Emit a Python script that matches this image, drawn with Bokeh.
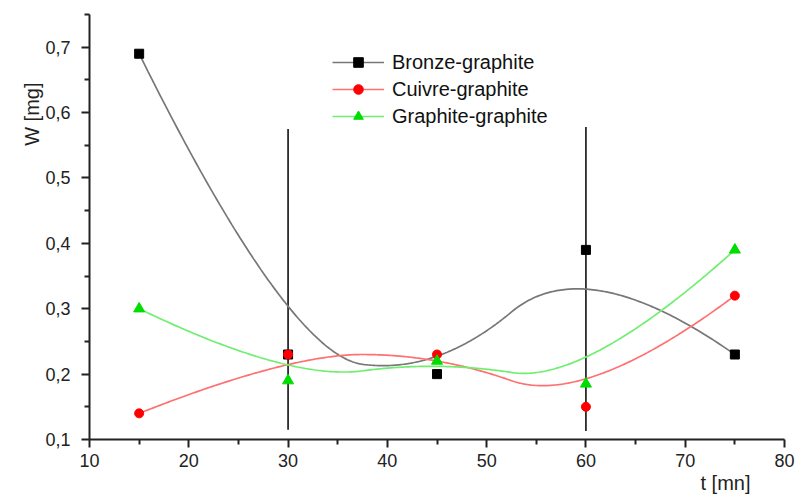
import numpy as np
from bokeh.plotting import figure
from bokeh.models import (Range1d, FixedTicker, CustomJSTickFormatter, Legend,
                          LegendItem, Title, ColumnDataSource)
from bokeh.embed import file_html
from bokeh.resources import INLINE

# ---- data ----
t_values = [15, 30, 45, 60, 75]
bronze = [0.69, 0.23, 0.20, 0.39, 0.23]
cuivre = [0.14, 0.23, 0.23, 0.15, 0.32]
graphite = [0.30, 0.19, 0.22, 0.185, 0.39]
series_names = ["Bronze-graphite", "Cuivre-graphite", "Graphite-graphite"]

err_x = [30, 60]
err_low = [0.115, 0.113]
err_high = [0.575, 0.578]

x_ticks = [10, 20, 30, 40, 50, 60, 70, 80]
x_minor = [15, 25, 35, 45, 55, 65, 75]
y_ticks = [0.1, 0.2, 0.3, 0.4, 0.5, 0.6, 0.7]
y_minor = [0.15, 0.25, 0.35, 0.45, 0.55, 0.65, 0.75]

FONT = "Liberation Sans"


def bspline(xs, ys, k=2, n=300):
    """Clamped uniform B-spline using the data points as control points."""
    P = np.column_stack([np.asarray(xs, float), np.asarray(ys, float)])
    m = len(P)
    inner = list(range(1, m - k))
    t = np.array([0.0] * (k + 1) + inner + [float(m - k)] * (k + 1))
    us = np.linspace(0, m - k, n)
    out = []
    for u in us:
        s = np.searchsorted(t, u, side="right") - 1
        s = min(s, len(t) - k - 2)
        d = [P[j + s - k].copy() for j in range(k + 1)]
        for r in range(1, k + 1):
            for j in range(k, r - 1, -1):
                den = t[j + 1 + s - r] - t[j + s - k]
                a = 0.0 if den == 0 else (u - t[j + s - k]) / den
                d[j] = (1 - a) * d[j - 1] + a * d[j]
        out.append(d[k])
    out = np.array(out)
    return out[:, 0], out[:, 1]


p = figure(width=798, height=499, output_backend="svg", toolbar_location=None,
           x_range=Range1d(10, 80), y_range=Range1d(0.1, 0.75),
           min_border_left=89, min_border_right=14, min_border_top=14,
           min_border_bottom=60)
p.outline_line_color = None
p.grid.visible = False
p.background_fill_color = "white"
p.border_fill_color = "white"

for ax in (p.xaxis[0], p.yaxis[0]):
    ax.axis_line_width = 2
    ax.axis_line_color = "#222222"
    ax.major_tick_line_width = 2
    ax.minor_tick_line_width = 2
    ax.major_tick_line_color = "#222222"
    ax.minor_tick_line_color = "#222222"
    ax.major_tick_in = 0
    ax.major_tick_out = 8
    ax.minor_tick_in = 0
    ax.minor_tick_out = 5
    ax.major_label_text_font = FONT
    ax.major_label_text_font_size = "18px"
    ax.major_label_text_color = "#222222"

p.xaxis.ticker = FixedTicker(ticks=x_ticks, minor_ticks=x_minor)
p.yaxis.ticker = FixedTicker(ticks=y_ticks, minor_ticks=y_minor)
p.yaxis.formatter = CustomJSTickFormatter(code="return tick.toFixed(1).replace('.', ',');")
p.xaxis.major_label_standoff = 6
p.yaxis.major_label_standoff = 11

# error bars
src_err = ColumnDataSource(dict(x=err_x, y0=err_low, y1=err_high))
p.segment(x0="x", y0="y0", x1="x", y1="y1", source=src_err,
          line_color="#111111", line_width=1.6)

styles = [
    (bronze, "#777777", "square", "black", 9),
    (cuivre, "#ff7070", "circle", "#ff0000", 9),
    (graphite, "#70ee70", "triangle", "#00dd00", 11),
]
items = []
for (vals, lc, mk, mc, ms), name in zip(styles, series_names):
    sx, sy = bspline(t_values, vals)
    lr = p.line(sx, sy, line_color=lc, line_width=1.7)
    sr = p.scatter(t_values, vals, marker=mk, size=ms, fill_color=mc,
                   line_color=mc)
    items.append(LegendItem(label=name, renderers=[lr, sr]))

legend = Legend(items=items, location=(243, 311), glyph_width=52,
                glyph_height=24, label_height=24, spacing=3, padding=0,
                margin=0, label_standoff=8, border_line_color=None,
                background_fill_alpha=0, label_text_font=FONT,
                label_text_font_size="20px", label_text_color="#111111")
p.add_layout(legend, "center")

p.add_layout(Title(text="W [mg]", align="right", offset=68, standoff=0,
                   text_font=FONT, text_font_size="20px",
                   text_font_style="normal", text_color="#222222"), "left")
p.add_layout(Title(text="t [mn]", align="right", offset=34, standoff=0,
                   text_font=FONT, text_font_size="20px",
                   text_font_style="normal", text_color="#222222"), "below")

open("out.html", "w").write(file_html(p, INLINE))
